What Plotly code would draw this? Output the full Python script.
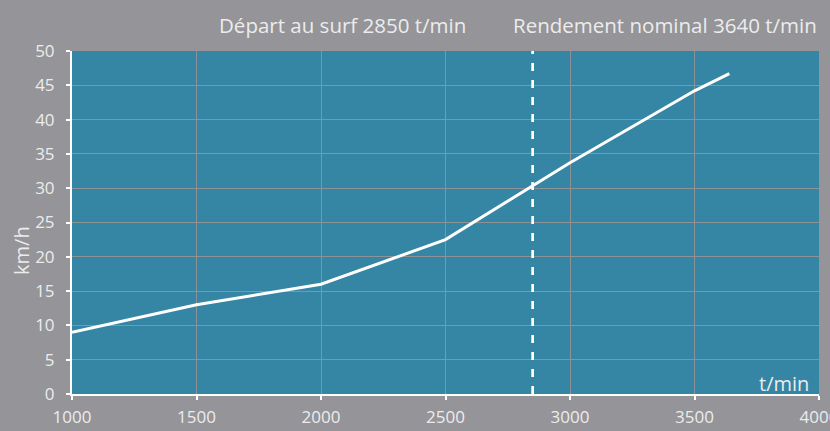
import plotly.graph_objects as go

# Data
throughput = [1000, 1500, 2000, 2500, 3000, 3500, 3640]   # t/min
speed = [9.0, 13.0, 16.0, 22.5, 33.7, 44.2, 46.7]          # km/h
x_ticks = [1000, 1500, 2000, 2500, 3000, 3500, 4000]
y_ticks = [0, 5, 10, 15, 20, 25, 30, 35, 40, 45, 50]
depart_surf = 2850
rendement_nominal = 3640
label_depart = "Départ au surf 2850 t/min"
label_nominal = "Rendement nominal 3640 t/min"
x_title = "t/min"
y_title = "km/h"

FONT = "Open Sans"
TXT = "#ececec"
PAPER = "#949499"
PLOT = "#3585a5"
GRID = "#8e9297"

fig = go.Figure()
fig.add_trace(go.Scatter(x=throughput, y=speed, mode="lines",
                         line=dict(color="white", width=3), showlegend=False,
                         hoverinfo="skip"))

fig.add_shape(type="line", xref="x", yref="paper", x0=depart_surf, x1=depart_surf,
              y0=0, y1=1, line=dict(color="white", width=2.7, dash="8px,9px"))

axis_common = dict(showgrid=True, gridcolor=GRID, gridwidth=1,
                   showline=True, linecolor="white", linewidth=2,
                   ticks="outside", ticklen=4, tickwidth=2, tickcolor="white",
                   tickfont=dict(size=17, color=TXT, family=FONT), zeroline=False,
                   ticklabeloverflow="allow", automargin=False)

fig.update_layout(
    autosize=False,
    width=830, height=431,
    margin=dict(l=72, r=11, t=51, b=37, autoexpand=False),
    paper_bgcolor=PAPER, plot_bgcolor=PLOT,
    font=dict(family=FONT, size=17, color=TXT),
    xaxis=dict(range=[1000, 4000], tickvals=x_ticks, ticktext=[str(v) for v in x_ticks],
               ticklabelstandoff=3, **axis_common),
    yaxis=dict(range=[0, 50], tickvals=y_ticks, ticklabelstandoff=8, **axis_common),
    annotations=[
        dict(text=label_depart, xref="paper", yref="paper", x=(depart_surf - 1000) / 3000 - 0.086,
             y=1, yshift=26, xanchor="right", yanchor="middle", showarrow=False,
             font=dict(size=20.5, color=TXT, family=FONT)),
        dict(text=label_nominal, xref="paper", yref="paper", x=1, y=1, yshift=26,
             xanchor="right", yanchor="middle", showarrow=False,
             font=dict(size=20.5, color=TXT, family=FONT)),
        dict(text=x_title, xref="paper", yref="paper", x=1, y=0, xshift=-8, yshift=11,
             xanchor="right", yanchor="middle", showarrow=False,
             font=dict(size=20, color=TXT, family=FONT)),
        dict(text=y_title, xref="paper", yref="paper", x=0, y=0.417, xshift=-50,
             xanchor="center", yanchor="middle", showarrow=False, textangle=-90,
             font=dict(size=20, color=TXT, family=FONT)),
    ],
)

fig.write_html("out.html",
               config={"responsive": False, "displayModeBar": False},
               post_script="document.body.style.margin='0';"
                           "document.body.style.overflow='hidden';"
                           "document.body.style.background='#949499';")
